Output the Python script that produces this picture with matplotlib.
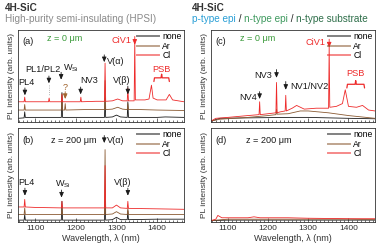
import matplotlib
matplotlib.use("Agg")
import matplotlib.pyplot as plt
from matplotlib.lines import Line2D
from matplotlib.ticker import MultipleLocator

plt.rcParams['font.family'] = ['Liberation Sans', 'DejaVu Sans']
plt.rcParams['mathtext.fontset'] = 'custom'
plt.rcParams['mathtext.rm'] = 'Liberation Sans'
plt.rcParams['mathtext.it'] = 'Liberation Sans:italic'

# ---------------- data ----------------
series_names = ["none", "Ar", "Cl"]
series_colors = ["#1a1a1a", "#8a5a32", "#ee2a2a"]
xticks = [1100, 1200, 1300, 1400]

# Panel (a): HPSI, z = 0 um
a_none_x = [1058, 1073, 1074.5, 1076, 1100, 1130, 1164.5, 1166, 1167.5, 1200, 1250, 1270.5, 1272, 1273.5, 1290, 1300, 1310, 1326.5, 1328, 1329.5, 1360, 1400, 1420, 1466]
a_none_y = [0.04, 0.045, 0.11, 0.05, 0.05, 0.05, 0.05, 0.32, 0.05, 0.05, 0.05, 0.05, 0.26, 0.05, 0.055, 0.075, 0.055, 0.05, 0.22, 0.05, 0.05, 0.05, 0.055, 0.05]
a_ar_x = [1058, 1073, 1074.5, 1076, 1100, 1164.5, 1166, 1167.5, 1172.5, 1174, 1175.5, 1220, 1270.5, 1272, 1273.5, 1290, 1303, 1315, 1326.5, 1328, 1329.5, 1360, 1400, 1466]
a_ar_y = [0.13, 0.13, 0.19, 0.13, 0.13, 0.13, 0.31, 0.13, 0.13, 0.2, 0.13, 0.135, 0.135, 0.45, 0.135, 0.14, 0.16, 0.14, 0.135, 0.2, 0.135, 0.135, 0.13, 0.125]
a_cl_x = [1058, 1073, 1074.5, 1076, 1100, 1133, 1134.5, 1136, 1164.5, 1166, 1167.5, 1200, 1211, 1212.5, 1214, 1250, 1270.5, 1272, 1273.5, 1290, 1303, 1315, 1326.5, 1328, 1329.5, 1343.5, 1345, 1346.5, 1370, 1380, 1386, 1390, 1400, 1422, 1430, 1438, 1466]
a_cl_y = [0.22, 0.22, 0.27, 0.22, 0.22, 0.22, 0.26, 0.22, 0.22, 0.30, 0.22, 0.22, 0.22, 0.27, 0.22, 0.225, 0.225, 0.64, 0.225, 0.23, 0.25, 0.23, 0.23, 0.37, 0.23, 0.23, 0.90, 0.24, 0.24, 0.25, 0.40, 0.26, 0.24, 0.24, 0.30, 0.24, 0.22]

# Panel (b): HPSI, z = 200 um
b_none_x = [1058, 1073, 1074.5, 1076, 1164.5, 1166, 1167.5, 1270.5, 1272, 1273.5, 1290, 1300, 1310, 1326.5, 1328, 1329.5, 1400, 1466]
b_none_y = [0.02, 0.02, 0.08, 0.02, 0.02, 0.22, 0.02, 0.02, 0.22, 0.02, 0.025, 0.05, 0.025, 0.025, 0.12, 0.025, 0.03, 0.03]
b_ar_x = [1058, 1073, 1074.5, 1076, 1164.5, 1166, 1167.5, 1270.5, 1272, 1273.5, 1290, 1300, 1310, 1326.5, 1328, 1329.5, 1400, 1466]
b_ar_y = [0.08, 0.08, 0.15, 0.08, 0.08, 0.15, 0.08, 0.08, 0.77, 0.08, 0.085, 0.11, 0.085, 0.08, 0.15, 0.08, 0.08, 0.08]
b_cl_x = [1058, 1073, 1074.5, 1076, 1100, 1164.5, 1166, 1167.5, 1270.5, 1272, 1273.5, 1290, 1300, 1310, 1326.5, 1328, 1329.5, 1400, 1466]
b_cl_y = [0.16, 0.16, 0.24, 0.16, 0.155, 0.15, 0.22, 0.15, 0.15, 0.60, 0.15, 0.15, 0.18, 0.15, 0.145, 0.22, 0.145, 0.14, 0.135]

# Panel (c): epi / substrate, z = 0 um
c_none_x = [1058, 1080, 1150, 1250, 1300, 1400, 1466]
c_none_y = [0.01, 0.04, 0.045, 0.05, 0.05, 0.04, 0.035]
c_ar_x = [1058, 1080, 1150, 1200, 1219.5, 1221, 1222.5, 1250, 1280, 1300, 1350, 1400, 1466]
c_ar_y = [0.01, 0.03, 0.05, 0.07, 0.08, 0.14, 0.085, 0.09, 0.12, 0.12, 0.10, 0.07, 0.04]
c_cl_x = [1058, 1070, 1100, 1150, 1177.5, 1179, 1180.5, 1200, 1219.5, 1221, 1222.5, 1230, 1242.5, 1244, 1245.5, 1260, 1271, 1290, 1320, 1340, 1350.5, 1352, 1353.5, 1370, 1385, 1392, 1400, 1420, 1435, 1450, 1466]
c_cl_y = [0.01, 0.04, 0.05, 0.07, 0.08, 0.22, 0.08, 0.09, 0.10, 0.43, 0.10, 0.11, 0.12, 0.29, 0.12, 0.15, 0.18, 0.14, 0.15, 0.15, 0.15, 0.84, 0.16, 0.17, 0.20, 0.35, 0.17, 0.16, 0.18, 0.13, 0.12]

# Panel (d): epi / substrate, z = 200 um
d_none_x = [1058, 1100, 1200, 1300, 1400, 1466]
d_none_y = [0.015, 0.02, 0.02, 0.02, 0.02, 0.02]
d_ar_x = [1058, 1100, 1200, 1300, 1400, 1466]
d_ar_y = [0.015, 0.03, 0.03, 0.03, 0.03, 0.025]
d_cl_x = [1058, 1070, 1075, 1085, 1150, 1165, 1180, 1250, 1300, 1400, 1466]
d_cl_y = [0.015, 0.03, 0.07, 0.045, 0.045, 0.055, 0.045, 0.045, 0.04, 0.035, 0.035]

panels = {
    'a': [(a_none_x, a_none_y), (a_ar_x, a_ar_y), (a_cl_x, a_cl_y)],
    'b': [(b_none_x, b_none_y), (b_ar_x, b_ar_y), (b_cl_x, b_cl_y)],
    'c': [(c_none_x, c_none_y), (c_ar_x, c_ar_y), (c_cl_x, c_cl_y)],
    'd': [(d_none_x, d_none_y), (d_ar_x, d_ar_y), (d_cl_x, d_cl_y)],
}

# ---------------- figure ----------------
W, H = 381, 250
fig = plt.figure(figsize=(W / 100, H / 100), dpi=100)

def px_axes(x0, y0, x1, y1):
    return fig.add_axes([x0 / W, 1 - y1 / H, (x1 - x0) / W, (y1 - y0) / H])

axes = {
    'a': px_axes(18, 30, 184, 122),
    'b': px_axes(18, 128, 184, 222),
    'c': px_axes(211, 30, 375, 122),
    'd': px_axes(211, 128, 375, 222),
}

FS = 6
AFS = 6.6
green = "#3a9a3a"
for key, ax in axes.items():
    for (xs, ys), c in zip(panels[key], series_colors):
        ax.plot(xs, ys, color=c, lw=0.6)
    ax.set_xlim(1058, 1466)
    ax.set_ylim(0, 1)
    ax.set_yticks([])
    ax.set_xticks(xticks)
    ax.xaxis.set_minor_locator(MultipleLocator(10))
    ax.tick_params(axis='x', which='major', direction='in', length=3, width=0.5, labelsize=FS, pad=2.5, colors='#333333')
    ax.tick_params(axis='x', which='minor', direction='in', length=1.5, width=0.4)
    for s in ax.spines.values():
        s.set_linewidth(0.6)
        s.set_color('#333333')
    ax.set_ylabel("PL intensity (arb. units)", fontsize=FS, labelpad=2, color='#333333')
    if key in ('a', 'c'):
        ax.tick_params(axis='x', labelbottom=False)
    else:
        ax.set_xlabel("Wavelength, λ (nm)", fontsize=6.5, labelpad=1, color='#333333')
    handles = [Line2D([], [], color=c, lw=1.4, alpha=0.55) for c in series_colors]
    ax.legend(handles, series_names, loc='upper right', fontsize=6.2, frameon=False,
              handlelength=2.6, handletextpad=0.4, labelspacing=0.05, borderaxespad=0.15,
              borderpad=0.1)

def arrow(ax, x, y_top, y_bot, color='#1a1a1a'):
    ax.annotate('', xy=(x, y_bot), xytext=(x, y_top),
                arrowprops=dict(arrowstyle='-|>,head_width=0.13,head_length=0.3', lw=0.6, color=color,
                                shrinkA=0, shrinkB=0))

def label(ax, x, y, s, color='#1a1a1a', ha='center', fs=AFS):
    ax.text(x, y, s, fontsize=fs, color=color, ha=ha, va='center')

red = "#ee2a2a"
brown = "#a0642e"
# panel (a)
ax = axes['a']
label(ax, 1069, 0.87, "(a)", ha='left')
label(ax, 1173, 0.91, "z = 0 μm", color=green, ha='center')
label(ax, 1078, 0.43, "PL4"); arrow(ax, 1075, 0.37, 0.29)
label(ax, 1118, 0.57, "PL1/PL2"); arrow(ax, 1134, 0.50, 0.42)
ax.plot([1134, 1134], [0.40, 0.28], ls=':', color='#999999', lw=0.6)
label(ax, 1168, 0.58, r"W$_{\mathrm{Si}}$", ha='left'); arrow(ax, 1164, 0.54, 0.46)
label(ax, 1174, 0.37, "?", color=brown); arrow(ax, 1174, 0.33, 0.25, color=brown)
label(ax, 1210, 0.45, "NV3", ha='left'); arrow(ax, 1212, 0.38, 0.30)
label(ax, 1276, 0.66, "V(α)", ha='left'); arrow(ax, 1270, 0.73, 0.65)
label(ax, 1312, 0.45, "V(β)", ha='center'); arrow(ax, 1328, 0.39, 0.30)
label(ax, 1312, 0.89, "CiV1", color=red); arrow(ax, 1345, 0.93, 0.84, color=red)
label(ax, 1410, 0.57, "PSB", color=red)

def brace(ax, x0, x1, y, d, color):
    xm = 0.5 * (x0 + x1)
    ax.plot([x0, x0 + 1.5, xm - 1.5, xm, xm + 1.5, x1 - 1.5, x1],
            [y - d, y, y, y + d, y, y, y - d], color=color, lw=0.9, solid_capstyle='round')

brace(ax, 1392, 1430, 0.48, 0.04, red)

# panel (b)
ax = axes['b']
label(ax, 1069, 0.87, "(b)", ha='left')
label(ax, 1138, 0.87, "z = 200 μm", ha='left')
label(ax, 1276, 0.87, "V(α)", ha='left'); arrow(ax, 1270, 0.92, 0.84)
label(ax, 1078, 0.42, "PL4"); arrow(ax, 1075, 0.36, 0.28)
label(ax, 1168, 0.40, r"W$_{\mathrm{Si}}$"); arrow(ax, 1165, 0.34, 0.26)
label(ax, 1315, 0.42, "V(β)"); arrow(ax, 1328, 0.36, 0.28)

# panel (c)
ax = axes['c']
label(ax, 1069, 0.87, "(c)", ha='left')
label(ax, 1174, 0.91, "z = 0 μm", color=green)
label(ax, 1150, 0.27, "NV4"); arrow(ax, 1179, 0.33, 0.25)
label(ax, 1188, 0.51, "NV3"); arrow(ax, 1221, 0.57, 0.48)
label(ax, 1256, 0.39, "NV1/NV2", ha='left'); arrow(ax, 1244, 0.44, 0.35)
label(ax, 1318, 0.86, "CiV1", color=red); arrow(ax, 1352, 0.90, 0.81, color=red)
label(ax, 1417, 0.53, "PSB", color=red)
brace(ax, 1396, 1440, 0.41, 0.04, red)

# panel (d)
ax = axes['d']
label(ax, 1069, 0.87, "(d)", ha='left')
label(ax, 1145, 0.87, "z = 200 μm", ha='left')

# header texts
HFS = 7.2
fig.text(5 / W, 1 - 8 / H, "4H-SiC", fontsize=HFS, color='#333333', fontweight='bold', va='center', ha='left')
fig.text(5 / W, 1 - 19 / H, "High-purity semi-insulating (HPSI)", fontsize=HFS, color='#8a8a8a', va='center', ha='left')
fig.text(192 / W, 1 - 8 / H, "4H-SiC", fontsize=HFS, color='#333333', fontweight='bold', va='center', ha='left')

pieces = [("p-type epi", "#2a9fd6"), (" / ", "#222222"), ("n-type epi", "#3f9a5f"),
          (" / ", "#222222"), ("n-type substrate", "#2f6f4a")]
fig.canvas.draw()
r = fig.canvas.get_renderer()
xpos = 192
for s, c in pieces:
    t = fig.text(xpos / W, 1 - 19 / H, s, fontsize=HFS, color=c, va='center', ha='left')
    bb = t.get_window_extent(renderer=r)
    xpos += bb.width

fig.savefig("out.png", dpi=100)
